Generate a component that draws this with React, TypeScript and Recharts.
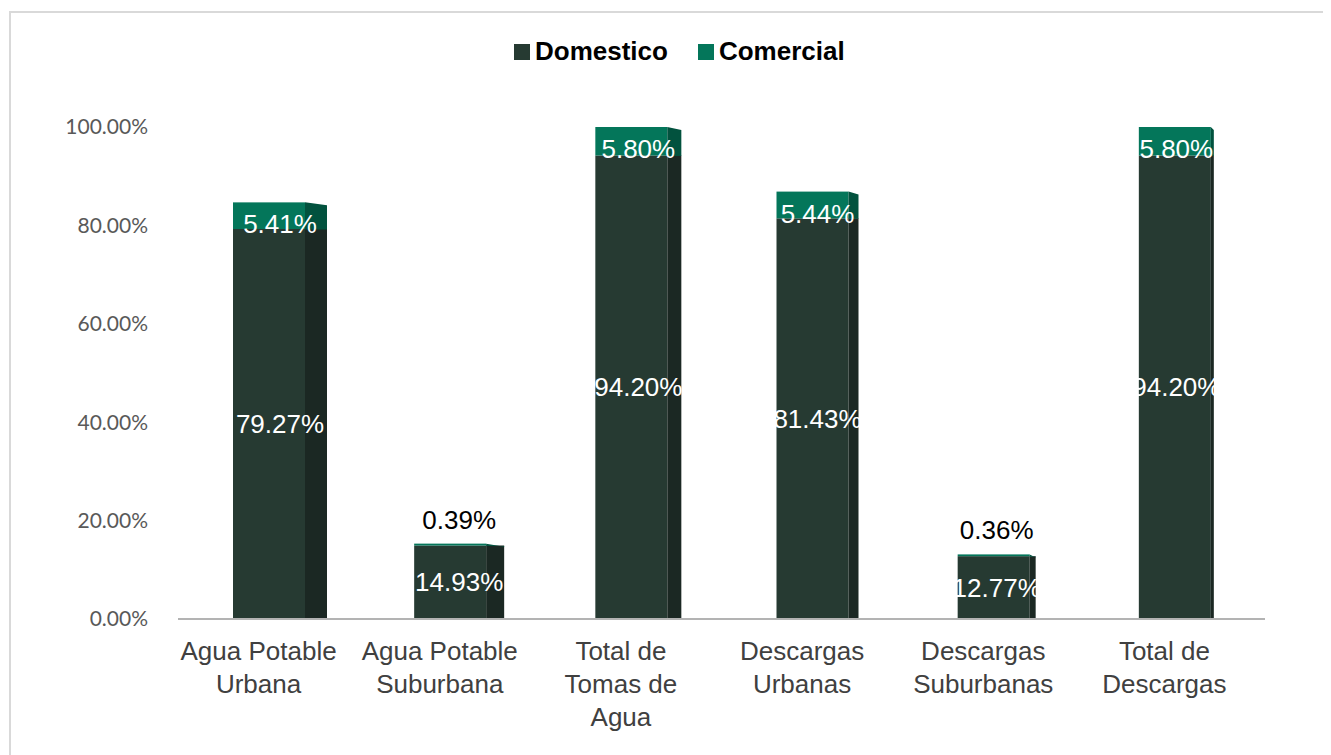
import { BarChart, Bar, XAxis, YAxis, LabelList } from "recharts";

const categories = [
  "Agua Potable Urbana",
  "Agua Potable Suburbana",
  "Total de Tomas de Agua",
  "Descargas Urbanas",
  "Descargas Suburbanas",
  "Total de Descargas",
];
const categoryLines = [
  ["Agua Potable", "Urbana"],
  ["Agua Potable", "Suburbana"],
  ["Total de", "Tomas de", "Agua"],
  ["Descargas", "Urbanas"],
  ["Descargas", "Suburbanas"],
  ["Total de", "Descargas"],
];
const domestico = [0.7927, 0.1493, 0.942, 0.8143, 0.1277, 0.942];
const comercial = [0.0541, 0.0039, 0.058, 0.0544, 0.0036, 0.058];
const yTicks = [0, 0.2, 0.4, 0.6, 0.8, 1];

const series = [
  { key: "domestico", name: "Domestico", color: "#263a32", side: "#1b2823" },
  { key: "comercial", name: "Comercial", color: "#04765a", side: "#02523e" },
];

const data = categories.map((c, i) => ({
  name: c,
  domestico: domestico[i],
  comercial: comercial[i],
}));

const pct = (v: number) => `${(v * 100).toFixed(2)}%`;
const sideWidth = (i: number) => Math.max(3, 22 - i * 4);

function makeShape(color: string, side: string, slant: number) {
  return (props: any) => {
    const { x, y, width, height, index } = props;
    const s = sideWidth(index);
    const h = Math.max(height, 1.5);
    return (
      <g>
        <rect x={x} y={y} width={width} height={h} fill={color} />
        <polygon
          points={`${x + width},${y} ${x + width + s},${y + slant} ${x + width + s},${y + h + 0.5} ${x + width},${y + h + 0.5}`}
          fill={side}
        />
      </g>
    );
  };
}

const domLabel = (props: any) => {
  const { x, y, width, height, value, index } = props;
  const s = sideWidth(index);
  return (
    <text
      x={x + width / 2 + s / 2}
      y={y + height / 2}
      dy={9}
      textAnchor="middle"
      fill="#ffffff"
      fontSize={26}
      fontFamily="Liberation Sans, Arial, sans-serif"
    >
      {pct(value)}
    </text>
  );
};

const comLabel = (props: any) => {
  const { x, y, width, value, index } = props;
  const s = sideWidth(index);
  const outside = value < 0.01;
  return (
    <text
      x={x + width / 2 + s / 2}
      y={outside ? y - 24 : y + 22}
      dy={9}
      textAnchor="middle"
      fill={outside ? "#000000" : "#ffffff"}
      fontSize={26}
      fontFamily="Liberation Sans, Arial, sans-serif"
    >
      {pct(value)}
    </text>
  );
};

const CategoryTick = (props: any) => {
  const { x, y, index } = props;
  const lines = categoryLines[index] || [];
  return (
    <text
      x={x - 10}
      y={y}
      textAnchor="middle"
      fill="#404040"
      fontSize={26}
      fontFamily="Liberation Sans, Arial, sans-serif"
    >
      {lines.map((l, i) => (
        <tspan key={i} x={x - 10} dy={i === 0 ? 41 : 33}>
          {l}
        </tspan>
      ))}
    </text>
  );
};

export default function App() {
  return (
    <div
      style={{
        position: "relative",
        width: 1323,
        height: 747,
        overflow: "hidden",
        background: "#ffffff",
      }}
    >
      <div
        style={{
          position: "absolute",
          left: 1,
          top: 3,
          width: 1400,
          height: 800,
          border: "2px solid #d9d9d9",
        }}
      />
      <div
        style={{
          position: "absolute",
          top: 28,
          left: 506,
          display: "flex",
          alignItems: "center",
          fontFamily: "Liberation Sans, Arial, sans-serif",
          fontWeight: "bold",
          fontSize: 26,
          color: "#000000",
        }}
      >
        {series.map((s) => (
          <div key={s.key} style={{ display: "flex", alignItems: "center", marginRight: 30 }}>
            <span style={{ width: 16, height: 16, background: s.color, marginRight: 5 }} />
            <span>{s.name}</span>
          </div>
        ))}
      </div>
      <BarChart
        width={1323}
        height={747}
        data={data}
        margin={{ top: 119, right: 66, bottom: 106, left: 0 }}
        barSize={72}
        style={{ position: "absolute", left: 0, top: 0 }}
      >
        <XAxis
          dataKey="name"
          height={30}
          tick={<CategoryTick />}
          tickLine={false}
          tickSize={0}
          tickMargin={0}
          axisLine={{ stroke: "#b3b3b3", strokeWidth: 2 }}
          interval={0}
        />
        <YAxis
          domain={[0, 1]}
          ticks={yTicks}
          tickFormatter={pct}
          axisLine={false}
          tickLine={false}
          tickSize={0}
          tickMargin={30}
          width={170}
          tick={{ fontSize: 21, fill: "#595959", fontFamily: "Lato, Liberation Sans, sans-serif" }}
        />
        <Bar
          dataKey="domestico"
          name="Domestico"
          stackId="a"
          fill={series[0].color}
          shape={makeShape(series[0].color, series[0].side, 0)}
          isAnimationActive={false}
        >
          <LabelList dataKey="domestico" content={domLabel} />
        </Bar>
        <Bar
          dataKey="comercial"
          name="Comercial"
          stackId="a"
          fill={series[1].color}
          shape={makeShape(series[1].color, series[1].side, 3)}
          isAnimationActive={false}
        >
          <LabelList dataKey="comercial" content={comLabel} />
        </Bar>
      </BarChart>
    </div>
  );
}
